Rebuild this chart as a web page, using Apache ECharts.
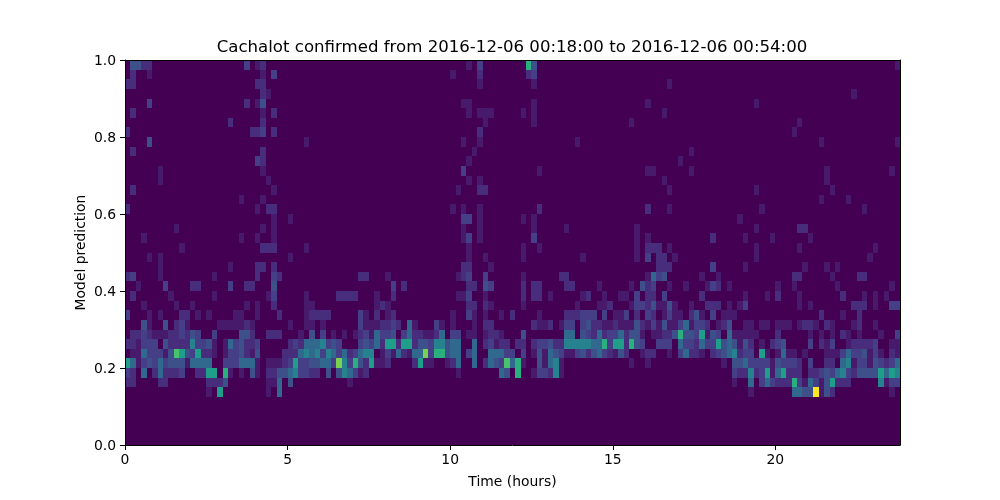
<!DOCTYPE html>
<html>
<head>
<meta charset="utf-8">
<style>html,body{margin:0;padding:0;background:#fff}#c{width:1000px;height:500px}</style>
<script src="https://cdn.jsdelivr.net/npm/echarts@6/dist/echarts.min.js"></script>
</head>
<body>
<div id="c"></div>
<script>
const titleText = 'Cachalot confirmed from 2016-12-06 00:18:00 to 2016-12-06 00:54:00';
const xName = 'Time (hours)';
const yName = 'Model prediction';
const columnCount = 143;
const rowCount = 40;
const binHours = 1 / 6;
const binPrediction = 0.025;
const maxCount = 13;
const levelColours = ['#440154','#471a6c','#472d7b','#443f87','#3e5089','#31688e','#26828e','#1f9e89','#2ab07f','#4ac16d','#7ad151','#a5db36','#d2e21b','#fde725'];

// each row: [column, count] pairs, rows count up from prediction 0; other cells are 0
const row05 = [[15,1],[17,7],[26,1],[28,5],[115,1],[123,5],[124,5],[125,4],[126,4],[127,13],[128,1],[129,4],[130,2],[141,1]];
const row06 = [[0,2],[1,2],[6,2],[7,2],[15,2],[16,2],[17,2],[18,4],[26,1],[27,1],[28,5],[30,4],[41,1],[112,1],[115,5],[117,3],[118,5],[119,3],[120,2],[121,2],[122,2],[123,8],[124,3],[125,1],[126,5],[127,3],[128,1],[129,4],[130,7],[131,2],[132,2],[133,2],[139,6],[140,1],[141,3],[142,3]];
const row07 = [[0,3],[1,2],[3,5],[5,2],[6,5],[7,2],[8,2],[9,2],[10,3],[13,2],[14,2],[15,7],[16,7],[18,8],[19,1],[21,1],[23,4],[24,1],[26,2],[27,2],[28,4],[29,4],[30,5],[31,6],[32,3],[33,3],[34,2],[35,2],[37,4],[39,4],[40,6],[41,5],[42,3],[43,1],[44,2],[61,1],[69,5],[70,4],[72,8],[75,1],[76,3],[77,3],[78,2],[79,6],[80,1],[112,3],[113,2],[114,2],[115,6],[116,2],[117,3],[118,7],[119,1],[120,5],[121,7],[122,2],[123,2],[124,2],[126,2],[127,2],[128,3],[129,4],[130,3],[131,5],[132,6],[133,3],[134,2],[135,4],[136,4],[137,4],[138,4],[139,7],[140,5],[141,7],[142,6]];
const row08 = [[0,7],[1,5],[2,1],[3,3],[4,4],[5,3],[6,5],[7,3],[8,4],[9,4],[10,4],[11,1],[12,5],[13,5],[14,5],[15,5],[18,3],[19,3],[20,3],[21,5],[22,5],[23,5],[24,1],[26,1],[27,1],[28,1],[29,2],[30,3],[31,7],[32,3],[33,3],[34,4],[35,4],[36,5],[37,5],[38,3],[39,10],[40,6],[41,3],[42,8],[43,4],[44,2],[45,7],[46,1],[47,1],[48,2],[53,2],[54,7],[55,1],[56,1],[59,1],[60,2],[61,5],[64,5],[66,2],[67,5],[68,4],[69,3],[70,9],[71,5],[72,8],[73,1],[76,4],[77,1],[78,5],[79,6],[80,1],[93,1],[96,1],[110,1],[112,4],[113,4],[114,5],[115,3],[116,3],[117,3],[118,3],[119,1],[120,4],[121,3],[122,3],[123,3],[124,2],[126,3],[129,2],[130,2],[132,5],[133,6],[134,1],[135,3],[136,3],[137,1],[138,4],[139,3],[140,2],[141,3],[142,5]];
const row09 = [[1,1],[2,1],[3,5],[4,3],[5,3],[6,3],[7,1],[8,4],[9,9],[10,7],[11,4],[12,3],[13,7],[14,2],[15,2],[16,1],[18,1],[19,3],[20,3],[21,4],[22,2],[23,1],[24,4],[29,2],[30,2],[31,2],[32,5],[33,6],[34,5],[35,6],[36,3],[37,6],[38,5],[39,3],[40,5],[41,2],[42,3],[43,5],[44,6],[45,6],[47,1],[48,3],[49,1],[50,5],[51,2],[52,1],[53,5],[54,5],[55,10],[56,3],[57,8],[58,8],[59,4],[60,5],[61,5],[63,3],[64,5],[67,5],[68,5],[69,5],[70,3],[71,3],[73,3],[75,1],[76,4],[77,1],[78,5],[79,4],[80,3],[81,1],[82,1],[83,3],[84,4],[85,2],[86,4],[87,5],[88,3],[89,2],[90,1],[91,4],[92,2],[95,1],[96,2],[97,2],[100,1],[102,3],[103,5],[104,2],[105,2],[106,1],[108,2],[109,3],[110,4],[111,5],[112,6],[113,2],[114,3],[115,3],[117,7],[118,1],[120,1],[121,5],[122,1],[123,1],[125,1],[129,1],[130,1],[131,1],[132,3],[133,5],[134,3],[135,3],[136,4],[137,1],[138,3],[139,1],[141,2],[142,1]];
const row10 = [[0,2],[1,2],[2,1],[3,3],[4,3],[5,3],[7,4],[8,2],[9,2],[10,2],[11,2],[12,6],[13,3],[14,3],[15,4],[16,1],[18,1],[19,5],[20,3],[21,4],[22,2],[23,2],[24,3],[30,2],[31,3],[32,2],[33,5],[34,5],[35,5],[36,6],[37,3],[38,4],[39,3],[43,3],[44,4],[45,3],[46,5],[47,2],[48,7],[49,7],[50,2],[51,7],[52,7],[53,2],[54,4],[55,4],[56,3],[57,6],[58,6],[59,4],[60,5],[61,5],[64,5],[66,2],[67,3],[68,1],[69,2],[70,2],[72,2],[73,2],[75,2],[76,3],[77,3],[78,4],[79,2],[80,2],[81,6],[82,6],[83,6],[84,6],[85,6],[86,5],[87,5],[88,8],[89,3],[90,7],[91,7],[92,2],[93,8],[94,4],[95,3],[98,3],[99,3],[100,3],[102,5],[103,3],[104,3],[105,2],[106,5],[107,3],[108,3],[109,7],[110,4],[111,5],[112,4],[113,1],[114,4],[115,2],[117,1],[119,2],[120,3],[121,4],[126,3],[128,2],[129,1],[130,3],[133,1],[134,2],[135,2],[136,2],[137,2],[138,3],[141,1],[142,1]];
const row11 = [[1,2],[2,2],[3,3],[4,2],[5,1],[6,1],[7,1],[8,2],[9,2],[10,3],[11,2],[12,4],[13,3],[16,3],[21,4],[22,4],[23,2],[26,2],[27,2],[28,2],[32,1],[34,4],[36,3],[38,1],[40,1],[42,1],[43,2],[44,3],[45,1],[46,5],[47,3],[48,3],[49,4],[51,3],[52,5],[53,2],[54,2],[55,1],[56,1],[57,2],[58,5],[60,3],[61,3],[63,1],[64,1],[66,1],[67,2],[68,2],[69,1],[73,4],[81,5],[82,5],[84,4],[85,3],[86,2],[87,5],[88,2],[89,3],[90,3],[91,5],[92,2],[93,4],[94,4],[95,1],[97,1],[98,1],[99,2],[100,2],[101,4],[102,8],[103,4],[104,4],[105,3],[106,7],[107,1],[108,4],[109,3],[111,5],[112,1],[113,1],[114,1],[115,1],[116,1],[120,2],[126,1],[128,1],[130,1],[132,2],[133,1],[135,1],[139,1],[142,3]];
const row12 = [[3,4],[4,1],[7,4],[9,2],[10,3],[11,1],[17,1],[18,1],[19,1],[20,1],[21,1],[22,2],[23,1],[30,1],[33,1],[34,1],[36,1],[43,3],[44,1],[45,1],[46,1],[47,2],[48,2],[49,3],[50,2],[52,5],[53,1],[57,3],[58,1],[60,1],[64,1],[66,2],[67,2],[75,2],[76,1],[77,1],[78,2],[80,1],[81,3],[82,3],[84,3],[85,4],[86,2],[87,2],[88,1],[89,1],[90,2],[91,1],[92,1],[93,1],[94,4],[95,2],[96,1],[97,3],[98,1],[99,4],[100,1],[101,1],[102,3],[103,5],[104,1],[105,3],[106,3],[107,2],[109,1],[110,2],[111,4],[114,1],[115,1],[117,1],[118,1],[120,1],[121,1],[122,1],[124,1],[125,2],[126,2],[127,1],[129,2],[130,1],[134,1],[135,2],[138,1]];
const row13 = [[0,3],[4,1],[6,1],[10,2],[11,2],[13,1],[15,1],[20,1],[21,1],[24,1],[28,2],[33,1],[34,2],[35,2],[36,2],[37,2],[43,3],[44,1],[46,2],[48,1],[49,2],[60,1],[63,3],[64,1],[66,1],[69,1],[71,2],[76,1],[81,2],[82,2],[83,2],[84,3],[85,3],[86,3],[88,3],[90,1],[91,1],[92,3],[94,2],[96,3],[97,2],[99,1],[100,3],[101,1],[102,1],[104,2],[105,4],[106,1],[108,3],[110,1],[111,1],[112,1],[128,2],[132,1],[135,2]];
const row14 = [[3,1],[9,1],[12,1],[22,1],[24,1],[27,2],[33,1],[34,1],[46,1],[47,2],[48,1],[63,2],[64,2],[66,2],[67,1],[73,1],[83,1],[87,1],[88,1],[89,2],[93,1],[94,3],[95,3],[96,2],[97,4],[98,1],[99,1],[100,4],[101,1],[104,1],[107,2],[108,2],[109,2],[111,1],[113,1],[114,3],[124,1],[126,1],[134,2],[135,2],[136,2],[138,1],[141,3],[142,3]];
const row15 = [[1,2],[8,1],[16,1],[26,1],[27,3],[33,1],[39,2],[40,2],[41,2],[42,2],[46,1],[49,2],[61,1],[62,1],[63,3],[66,1],[73,2],[75,2],[76,2],[78,1],[84,1],[85,2],[88,1],[91,1],[92,1],[94,3],[96,2],[97,2],[99,3],[106,2],[114,1],[118,1],[120,2],[124,1],[132,2],[136,1],[138,1],[140,1]];
const row16 = [[2,1],[7,3],[12,2],[13,2],[19,3],[22,2],[23,2],[27,4],[49,3],[51,2],[63,2],[64,2],[66,4],[67,3],[73,2],[75,2],[76,2],[81,2],[82,2],[87,1],[93,1],[95,4],[96,2],[97,3],[100,1],[103,1],[107,1],[108,3],[109,2],[111,1],[120,1],[123,1],[131,1],[141,1]];
const row17 = [[0,2],[1,3],[6,1],[16,1],[24,2],[27,3],[28,2],[43,2],[44,2],[48,1],[61,1],[62,2],[63,3],[66,3],[73,1],[80,2],[81,2],[96,1],[97,5],[98,3],[99,4],[106,1],[109,1],[123,2],[124,2],[130,1],[135,2],[136,2]];
const row18 = [[6,1],[19,1],[24,2],[25,2],[27,2],[62,2],[63,2],[67,1],[98,2],[99,2],[100,2],[108,3],[114,1],[125,1],[129,1],[131,1]];
const row19 = [[4,1],[6,1],[30,1],[63,1],[66,1],[73,1],[84,1],[94,1],[96,3],[98,2],[99,2],[101,1],[116,1],[137,1]];
const row20 = [[10,1],[25,2],[26,2],[27,2],[33,1],[63,1],[73,1],[76,1],[94,1],[96,2],[97,2],[98,2],[100,1],[116,1],[124,1],[138,1]];
const row21 = [[3,1],[21,1],[24,1],[27,1],[62,1],[63,3],[65,1],[75,3],[94,1],[96,1],[108,2],[114,1],[119,1],[126,1]];
const row22 = [[9,1],[25,1],[27,1],[62,1],[65,1],[75,1],[81,1],[94,1],[116,1],[124,2],[125,2]];
const row23 = [[27,1],[30,1],[62,3],[63,3],[65,1],[73,1],[75,1],[113,1]];
const row24 = [[0,2],[24,1],[26,2],[27,2],[60,1],[62,1],[65,1],[76,2],[96,2],[100,1],[117,1],[136,1]];
const row25 = [[21,1],[25,1],[128,1],[133,1]];
const row26 = [[1,2],[27,1],[61,1],[65,2],[66,2],[100,1],[116,1],[130,1]];
const row27 = [[6,1],[26,1],[63,1],[65,1],[99,1],[129,1]];
const row28 = [[6,1],[25,1],[62,3],[76,1],[96,1],[97,1],[104,1],[129,1],[141,1]];
const row29 = [[24,3],[25,2],[63,1],[102,1]];
const row30 = [[1,2],[25,2],[64,1],[104,1]];
const row31 = [[4,4],[33,1],[62,1],[65,1],[83,1],[128,1],[142,1]];
const row32 = [[0,2],[23,2],[24,2],[25,3],[27,2],[65,2],[123,1]];
const row33 = [[19,2],[25,2],[66,1],[75,1],[93,1],[124,1]];
const row34 = [[1,2],[25,1],[27,2],[63,1],[65,1],[66,1],[67,1],[73,1],[75,1],[99,1]];
const row35 = [[4,3],[22,2],[24,1],[25,4],[62,1],[63,1],[75,1],[96,1],[116,1]];
const row36 = [[25,2],[26,1],[134,1]];
const row37 = [[0,2],[1,2],[24,2],[25,2],[65,1],[75,1],[100,1]];
const row38 = [[1,2],[4,1],[25,1],[27,3],[60,1],[65,2],[74,2],[75,3]];
const row39 = [[1,4],[2,4],[3,2],[4,2],[22,3],[24,1],[25,2],[63,1],[65,3],[74,8],[75,4],[142,1]];

const rows = {5:row05,6:row06,7:row07,8:row08,9:row09,10:row10,11:row11,12:row12,13:row13,14:row14,15:row15,16:row16,17:row17,18:row18,19:row19,20:row20,21:row21,22:row22,23:row23,24:row24,25:row25,26:row26,27:row27,28:row28,29:row29,30:row30,31:row31,32:row32,33:row33,34:row34,35:row35,36:row36,37:row37,38:row38,39:row39};

const cells = [];
for (let r = 0; r < rowCount; r++) {
  const lookup = new Map(rows[r] || []);
  for (let c = 0; c < columnCount; c++) {
    cells.push([c * binHours, r * binPrediction, lookup.get(c) || 0]);
  }
}

const font = '"DejaVu Sans"';
const tick = {show:true, length:5, lineStyle:{color:'#000', width:1}};
const line = {show:true, onZero:false, lineStyle:{color:'#000', width:1}};
const xMax = columnCount * binHours;

const chart = echarts.init(document.getElementById('c'), null, {renderer:'canvas', width:1000, height:500});
chart.setOption({
  animation:false,
  backgroundColor:'#fff',
  title:{text:titleText, left:507, top:34, textAlign:'center', textStyle:{color:'#000', fontFamily:font, fontSize:16.6, fontWeight:'normal'}},
  grid:{left:125, right:100, top:60, bottom:55, show:true, backgroundColor:levelColours[0], borderWidth:0},
  visualMap:{show:false, type:'continuous', min:0, max:maxCount, dimension:2, seriesIndex:0, inRange:{color:levelColours}},
  xAxis:[
    {type:'value', min:0, max:xMax, interval:5, z:10, name:xName, nameLocation:'middle', nameGap:30, nameMoveOverlap:false,
     nameTextStyle:{color:'#000', fontFamily:font, fontSize:13.9},
     axisLine:line, axisTick:tick, splitLine:{show:false},
     axisLabel:{color:'#000', fontFamily:font, fontSize:13.9, margin:8, showMaxLabel:false}},
    {type:'value', position:'top', min:0, max:xMax, z:10, axisLine:line, axisTick:{show:false}, axisLabel:{show:false}, splitLine:{show:false}}
  ],
  yAxis:[
    {type:'value', min:0, max:1, interval:0.2, z:10, name:yName, nameLocation:'middle', nameGap:37, nameMoveOverlap:false,
     nameTextStyle:{color:'#000', fontFamily:font, fontSize:13.9},
     axisLine:line, axisTick:tick, splitLine:{show:false},
     axisLabel:{color:'#000', fontFamily:font, fontSize:13.9, margin:9, verticalAlign:'top', lineHeight:2, formatter:v => v.toFixed(1)}},
    {type:'value', position:'right', min:0, max:1, z:10, axisLine:line, axisTick:{show:false}, axisLabel:{show:false}, splitLine:{show:false}}
  ],
  series:[{
    type:'custom', silent:true, progressive:0, clip:true, coordinateSystem:'cartesian2d',
    encode:{x:0, y:1},
    data:cells,
    renderItem:(params, api) => {
      const x0 = api.value(0), y0 = api.value(1);
      const a = api.coord([x0, y0]);
      const b = api.coord([x0 + binHours, y0 + binPrediction]);
      const left = Math.round(a[0]), right = Math.round(b[0]);
      const top = Math.round(b[1]), bottom = Math.round(a[1]);
      return {type:'rect', shape:{x:left, y:top, width:right-left, height:bottom-top}, style:{fill:api.visual('color')}};
    }
  }]
});
</script>
</body>
</html>
